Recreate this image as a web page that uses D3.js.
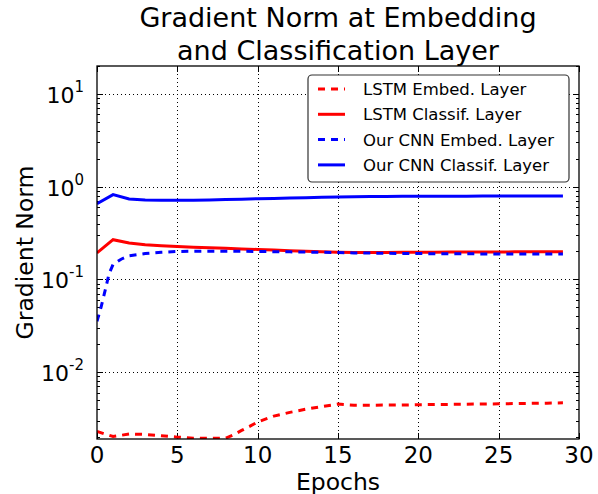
<!DOCTYPE html>
<html>
<head>
<meta charset="utf-8">
<script src="https://cdn.jsdelivr.net/npm/d3@7"></script>
<style>
  body { margin: 0; background: #fff; }
  svg { display: block; font-family: "DejaVu Sans", sans-serif; }
</style>
</head>
<body>
<svg id="chart" width="598" height="494"></svg>
<script>
// data
var epochs = d3.range(0, 30);

var lstmEmbedEpochs = [0, 1, 2, 3, 4, 5, 6, 7, 8, 8.5, 9, 9.5, 10, 11, 12, 13, 14, 15,
  16, 17, 18, 19, 20, 21, 22, 23, 24, 25, 26, 27, 28, 29];
var lstmEmbed = [0.00229, 0.00202, 0.00215, 0.00213, 0.00206, 0.00199, 0.00194, 0.00193,
  0.00194, 0.00211, 0.00235, 0.0026, 0.0029, 0.00335, 0.00368, 0.00398, 0.00425, 0.00452,
  0.0044, 0.0044, 0.00441, 0.00442, 0.00445, 0.00447, 0.00449, 0.00451, 0.00453, 0.00455,
  0.00458, 0.0046, 0.00463, 0.00466];

var lstmClassif = [0.193, 0.268, 0.247, 0.237, 0.231, 0.226, 0.222, 0.219, 0.216, 0.213,
  0.21, 0.207, 0.204, 0.201, 0.198, 0.196, 0.195, 0.195, 0.195, 0.196, 0.196, 0.196, 0.197,
  0.197, 0.197, 0.197, 0.198, 0.198, 0.198, 0.198];

var cnnEmbedEpochs = [0, 0.25, 0.5, 0.75, 1, 1.5, 2, 3, 4, 5, 6, 7, 8, 9, 10, 11, 12, 13,
  14, 15, 16, 17, 18, 19, 20, 21, 22, 23, 24, 25, 26, 27, 28, 29];
var cnnEmbed = [0.0353, 0.05, 0.075, 0.115, 0.145, 0.165, 0.18, 0.19, 0.196, 0.2, 0.201,
  0.201, 0.201, 0.201, 0.2, 0.199, 0.198, 0.197, 0.196, 0.195, 0.193, 0.192, 0.191, 0.19,
  0.19, 0.189, 0.189, 0.189, 0.188, 0.188, 0.188, 0.188, 0.188, 0.188];

var cnnClassif = [0.656, 0.82, 0.736, 0.72, 0.714, 0.712, 0.715, 0.72, 0.726, 0.733, 0.74,
  0.747, 0.754, 0.761, 0.768, 0.775, 0.779, 0.782, 0.784, 0.786, 0.787, 0.788, 0.789, 0.79,
  0.791, 0.792, 0.793, 0.793, 0.794, 0.794];

var xTicks = [0, 5, 10, 15, 20, 25, 30];
var yTicks = [0.01, 0.1, 1, 10];
var yExp = ["-2", "-1", "0", "1"];

var series = [
  {name: "LSTM Embed. Layer", x: lstmEmbedEpochs, y: lstmEmbed, color: "#ff0000", dash: "7,6"},
  {name: "LSTM Classif. Layer", x: epochs, y: lstmClassif, color: "#ff0000", dash: null},
  {name: "Our CNN Embed. Layer", x: cnnEmbedEpochs, y: cnnEmbed, color: "#0000ff", dash: "7,6"},
  {name: "Our CNN Classif. Layer", x: epochs, y: cnnClassif, color: "#0000ff", dash: null}
];

var pLeft = 97, pRight = 579, pTop = 66, pBottom = 439;

var x = d3.scaleLinear().domain([0, 30]).range([pLeft, pRight]);
var y = d3.scaleLog().domain([0.0019, 20]).range([pBottom, pTop]);

var svg = d3.select("#chart");

svg.append("defs").append("clipPath").attr("id", "clip")
  .append("rect").attr("x", pLeft).attr("y", pTop)
  .attr("width", pRight - pLeft).attr("height", pBottom - pTop);

// grid
svg.selectAll(".gx").data(xTicks.slice(1, -1)).enter().append("line")
  .attr("x1", d => Math.round(x(d)) + 0.5).attr("x2", d => Math.round(x(d)) + 0.5)
  .attr("y1", pTop).attr("y2", pBottom)
  .attr("stroke", "#000").attr("stroke-width", 1).attr("stroke-dasharray", "1,3");
svg.selectAll(".gy").data(yTicks).enter().append("line")
  .attr("x1", pLeft).attr("x2", pRight)
  .attr("y1", d => Math.round(y(d)) + 0.5).attr("y2", d => Math.round(y(d)) + 0.5)
  .attr("stroke", "#000").attr("stroke-width", 1).attr("stroke-dasharray", "1,3");

// ticks (inward, all four sides)
var minor = [];
[0.001, 0.01, 0.1, 1, 10].forEach(function(p) {
  for (var k = 2; k <= 9; k++) {
    var v = p * k;
    if (v >= 0.0019 && v <= 20) minor.push(v);
  }
});
var tickG = svg.append("g").attr("stroke", "#000").attr("stroke-width", 1);
xTicks.forEach(function(d) {
  var px = Math.round(x(d)) + 0.5;
  tickG.append("line").attr("x1", px).attr("x2", px).attr("y1", pBottom).attr("y2", pBottom - 6);
  tickG.append("line").attr("x1", px).attr("x2", px).attr("y1", pTop).attr("y2", pTop + 6);
});
yTicks.forEach(function(d) {
  var py = Math.round(y(d)) + 0.5;
  tickG.append("line").attr("x1", pLeft).attr("x2", pLeft + 6).attr("y1", py).attr("y2", py);
  tickG.append("line").attr("x1", pRight).attr("x2", pRight - 6).attr("y1", py).attr("y2", py);
});
minor.forEach(function(d) {
  var py = Math.round(y(d)) + 0.5;
  tickG.append("line").attr("x1", pLeft).attr("x2", pLeft + 3).attr("y1", py).attr("y2", py);
  tickG.append("line").attr("x1", pRight).attr("x2", pRight - 3).attr("y1", py).attr("y2", py);
});

// lines
var plot = svg.append("g").attr("clip-path", "url(#clip)");
series.forEach(function(s) {
  var pts = s.x.map((v, i) => [v, s.y[i]]);
  plot.append("path")
    .attr("d", d3.line().x(d => x(d[0])).y(d => y(d[1]))(pts))
    .attr("fill", "none")
    .attr("stroke", s.color)
    .attr("stroke-width", 3)
    .attr("stroke-dasharray", s.dash);
});

// frame
svg.append("rect").attr("x", pLeft).attr("y", pTop)
  .attr("width", pRight - pLeft).attr("height", pBottom - pTop)
  .attr("fill", "none").attr("stroke", "#000").attr("stroke-width", 1.3);

// tick labels
svg.selectAll(".xl").data(xTicks).enter().append("text")
  .attr("x", d => x(d)).attr("y", 463)
  .attr("text-anchor", "middle").attr("font-size", 23)
  .text(d => d);

yTicks.forEach(function(d, i) {
  var t = svg.append("text")
    .attr("x", 84).attr("y", y(d) + 9)
    .attr("text-anchor", "end").attr("font-size", 22);
  t.append("tspan").text("10");
  t.append("tspan").attr("font-size", 15).attr("dy", -11).text(yExp[i]);
});

// axis labels
svg.append("text").attr("x", (pLeft + pRight) / 2).attr("y", 490)
  .attr("text-anchor", "middle").attr("font-size", 23.5).text("Epochs");
svg.append("text")
  .attr("transform", "translate(33," + ((pTop + pBottom) / 2) + ") rotate(-90)")
  .attr("text-anchor", "middle").attr("font-size", 23.5).text("Gradient Norm");

// title
var title = ["Gradient Norm at Embedding", "and Classification Layer"];
svg.selectAll(".title").data(title).enter().append("text")
  .attr("x", (pLeft + pRight) / 2).attr("y", (d, i) => 27 + i * 33)
  .attr("text-anchor", "middle").attr("font-size", 27).text(d => d);

// legend
var lg = svg.append("g");
lg.append("rect").attr("x", 308).attr("y", 75).attr("width", 261).attr("height", 107)
  .attr("rx", 4).attr("fill", "#fff").attr("stroke", "#333").attr("stroke-width", 1.2);
series.forEach(function(s, i) {
  var ly = 89 + i * 25.3;
  lg.append("line").attr("x1", 318).attr("x2", 345).attr("y1", ly).attr("y2", ly)
    .attr("stroke", s.color).attr("stroke-width", 3).attr("stroke-dasharray", s.dash);
  lg.append("text").attr("x", 363).attr("y", ly + 6)
    .attr("font-size", 16.5).text(s.name);
});
</script>
</body>
</html>
